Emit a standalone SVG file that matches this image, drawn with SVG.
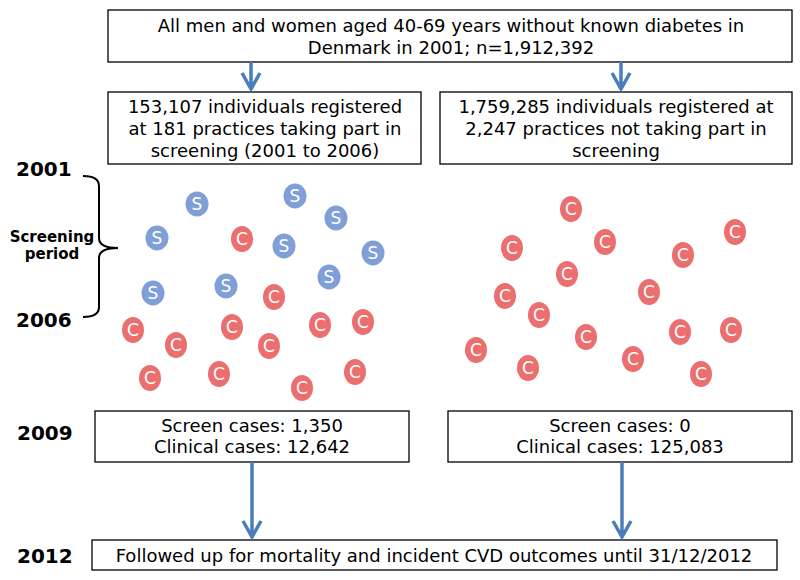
<svg xmlns="http://www.w3.org/2000/svg" width="800" height="580" viewBox="0 0 800 580">
<style>
.box{fill:#fff;stroke:#000;stroke-width:1.3}
.t{font-family:"DejaVu Sans","Liberation Sans",sans-serif;font-size:18px;fill:#000;text-anchor:middle}
.yr{font-family:"DejaVu Sans","Liberation Sans",sans-serif;font-weight:bold;font-size:20px;fill:#000}
.sp{font-family:"DejaVu Sans","Liberation Sans",sans-serif;font-weight:bold;font-size:15px;fill:#000;text-anchor:middle}
.arr{stroke:#4a7ebb;stroke-width:3.5;fill:none}
.s ellipse{fill:#7f9fd6}
.c ellipse{fill:#ec6f70}
.lt{font-family:"DejaVu Sans","Liberation Sans",sans-serif;font-size:17px;fill:#fff;text-anchor:middle}
</style>
<defs>
<g id="S" class="s"><ellipse cx="0" cy="0" rx="11.5" ry="12.5"/><text class="lt" x="0" y="6">S</text></g>
<g id="C" class="c"><ellipse cx="0" cy="0" rx="11" ry="13"/><text class="lt" x="0" y="6">C</text></g>
</defs>

<g id="top">
<rect class="box" x="108" y="10" width="684" height="52"/>
<text class="t" x="451" y="32">All men and women aged 40-69 years without known diabetes in</text>
<text class="t" x="451" y="54">Denmark in 2001; n=1,912,392</text>
</g>
<g id="screening">
<rect class="box" x="108" y="92" width="313" height="72"/>
<text class="t" x="265" y="113">153,107 individuals registered</text>
<text class="t" x="265" y="135">at 181 practices taking part in</text>
<text class="t" x="265" y="157">screening (2001 to 2006)</text>
</g>
<g id="nonscreening">
<rect class="box" x="440" y="92" width="352" height="72"/>
<text class="t" x="616" y="113">1,759,285 individuals registered at</text>
<text class="t" x="616" y="135">2,247 practices not taking part in</text>
<text class="t" x="616" y="157">screening</text>
</g>
<g id="cases-left">
<rect class="box" x="95" y="411" width="314" height="51"/>
<text class="t" x="252" y="432">Screen cases: 1,350</text>
<text class="t" x="252" y="453">Clinical cases: 12,642</text>
</g>
<g id="cases-right">
<rect class="box" x="448" y="411" width="344" height="51"/>
<text class="t" x="620" y="432">Screen cases: 0</text>
<text class="t" x="620" y="453">Clinical cases: 125,083</text>
</g>
<g id="followup">
<rect class="box" x="92" y="540" width="685" height="30"/>
<text class="t" x="434" y="562">Followed up for mortality and incident CVD outcomes until 31/12/2012</text>
</g>

<g id="connectors">
<path class="arr" d="M251 62 V89 M242 73 L251 89 L260 73"/>
<path class="arr" d="M621 62 V89 M612 73 L621 89 L630 73"/>
<path class="arr" d="M252 462 V537 M243 521 L252 537 L261 521"/>
<path class="arr" d="M622 462 V537 M613 521 L622 537 L631 521"/>
</g>

<g id="timeline">
<text class="yr" x="16" y="176">2001</text>
<text class="yr" x="16" y="327">2006</text>
<text class="yr" x="17" y="440">2009</text>
<text class="yr" x="17" y="563">2012</text>
<text class="sp" x="52" y="242">Screening</text>
<text class="sp" x="52" y="259">period</text>
<path d="M83 176 Q99 176 99 186 V238 Q99 248 118 248 Q99 248 99 258 V307 Q99 317 83 317" fill="none" stroke="#000" stroke-width="2"/>
</g>

<g id="people-screening">
<use href="#S" x="197" y="204"/>
<use href="#S" x="295" y="196"/>
<use href="#S" x="336" y="218"/>
<use href="#S" x="157" y="238"/>
<use href="#C" x="242" y="239"/>
<use href="#S" x="284" y="246"/>
<use href="#S" x="373" y="253"/>
<use href="#S" x="329" y="277"/>
<use href="#S" x="153" y="293"/>
<use href="#S" x="226" y="286"/>
<use href="#C" x="274" y="297"/>
<use href="#C" x="133" y="330"/>
<use href="#C" x="232" y="327"/>
<use href="#C" x="320" y="325"/>
<use href="#C" x="363" y="322"/>
<use href="#C" x="176" y="345"/>
<use href="#C" x="269" y="346"/>
<use href="#C" x="150" y="378"/>
<use href="#C" x="219" y="374"/>
<use href="#C" x="355" y="372"/>
<use href="#C" x="302" y="388"/>
</g>
<g id="people-nonscreening">
<use href="#C" x="571" y="209"/>
<use href="#C" x="735" y="232"/>
<use href="#C" x="512" y="248"/>
<use href="#C" x="605" y="242"/>
<use href="#C" x="683" y="255"/>
<use href="#C" x="567" y="274"/>
<use href="#C" x="505" y="296"/>
<use href="#C" x="649" y="292"/>
<use href="#C" x="539" y="315"/>
<use href="#C" x="586" y="337"/>
<use href="#C" x="680" y="332"/>
<use href="#C" x="731" y="330"/>
<use href="#C" x="476" y="350"/>
<use href="#C" x="528" y="368"/>
<use href="#C" x="633" y="359"/>
<use href="#C" x="701" y="374"/>
</g>
</svg>
